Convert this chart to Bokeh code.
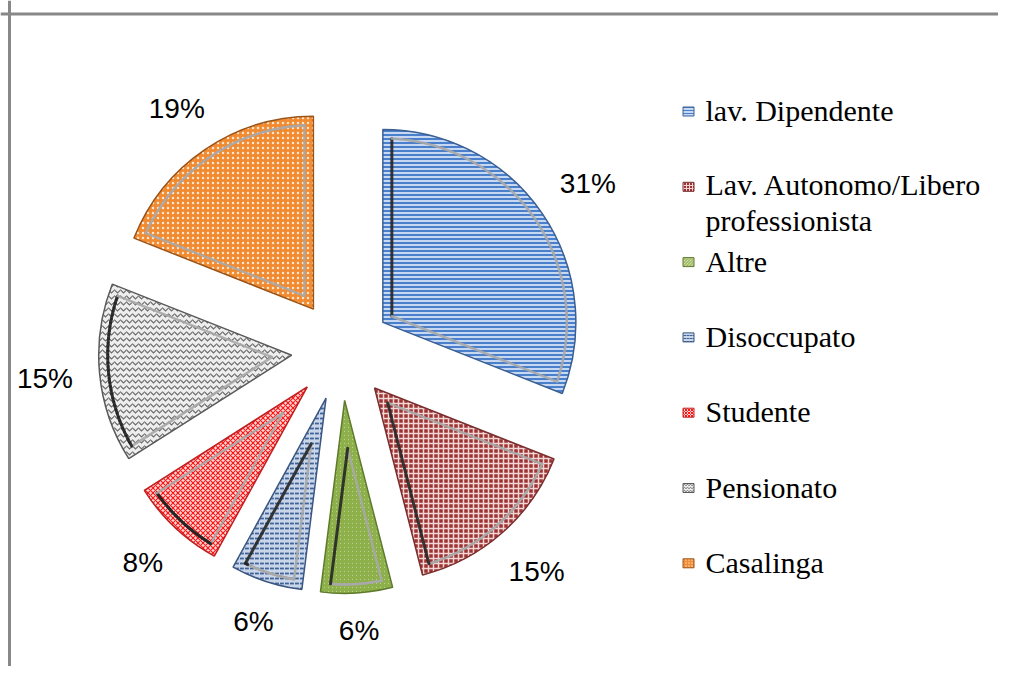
import numpy as np
from bokeh.plotting import figure
from bokeh.models import Range1d, Span, ColumnDataSource
from bokeh.core.properties import value
from bokeh.embed import file_html
from bokeh.resources import INLINE

# ---------------- data ----------------
categories = ["lav. Dipendente", "Lav. Autonomo/Libero\nprofessionista", "Altre",
              "Disoccupato", "Studente", "Pensionato", "Casalinga"]
shares = [31, 15, 6, 6, 8, 15, 19]
labels = [f"{v}%" for v in shares]

# ---------------- styles ----------------
fill_colors = ["#c6d8f2", "#9c3232", "#e9f1d8", "#c9d6ea", "#ffd6d6", "#eeeeee", "#f28a30"]
hatch_patterns = ["horizontal_line", "cross", "left_diagonal_line", "horizontal_dash",
                  "diagonal_cross", "horizontal_wave", "dot"]
hatch_colors = ["#4a7fcb", "#f2d6d6", "#8db04a", "#3f6398", "#ff1414", "#6a6a6a", "#fde6d2"]
hatch_scales = [4, 5, 4, 5, 5, 6, 5]
hatch_weights = [2, 1.5, 1.8, 1.8, 1.1, 1.2, 2.5]
edge_colors = ["#3b5f92", "#7a2d2d", "#5f7a2d", "#3b5680", "#c02020", "#5a5a5a", "#9a5418"]

# ---------------- layout (picture px -> data units) ----------------
W, H = 998, 666


def sx(X):
    return X


def sy(Y):
    return H - Y


cx, cy = sx(341), sy(350)
R = 193
EXPLODE = 50
INSET = 9
LABEL_GAP = 26
LABEL_FONT = 28

total = float(sum(shares))
cum = np.cumsum([0] + shares)
a1 = cum[:-1] / total * 360.0      # clockwise from 12 o'clock
a2 = cum[1:] / total * 360.0
mid = (a1 + a2) / 2.0
rad = np.radians

ax = cx + EXPLODE * np.sin(rad(mid))
ay = cy + EXPLODE * np.cos(rad(mid))

p = figure(width=W, height=H, x_range=Range1d(0, W), y_range=Range1d(0, H),
           output_backend="svg", toolbar_location=None, min_border=0)
p.axis.visible = False
p.grid.visible = False
p.outline_line_color = None
p.background_fill_color = "white"
p.border_fill_color = "white"

# chart-area frame (top and left edges visible in reference)
p.add_layout(Span(location=sy(13.5), dimension="width", line_color="#888888", line_width=3))
p.add_layout(Span(location=sx(9), dimension="height", line_color="#888888", line_width=3))

src = ColumnDataSource(dict(
    x=ax, y=ay,
    start=rad(90 - a2), end=rad(90 - a1),
    fill=fill_colors, hp=hatch_patterns, hc=hatch_colors,
    hs=hatch_scales, hw=hatch_weights, lc=edge_colors,
))
p.wedge(x="x", y="y", radius=R, start_angle="start", end_angle="end",
        direction="anticlock", fill_color="fill", hatch_pattern="hp",
        hatch_color="hc", hatch_scale="hs", hatch_weight="hw",
        line_color="lc", line_width=1.5, source=src)

# bevel inner outline
seg_xs, seg_ys, seg_cols, seg_w = [], [], [], []
for i in range(len(shares)):
    half = rad((a2[i] - a1[i]) / 2.0)
    shift = INSET / np.sin(half)
    apx = ax[i] + shift * np.sin(rad(mid[i]))
    apy = ay[i] + shift * np.cos(rad(mid[i]))
    d = np.degrees(np.arcsin(INSET / (R - INSET)))
    angs = np.linspace(a1[i] + d, a2[i] - d, 40)
    arcx = ax[i] + (R - INSET) * np.sin(rad(angs))
    arcy = ay[i] + (R - INSET) * np.cos(rad(angs))
    segs = [((apx, arcx[0]), (apy, arcy[0]), a1[i] - 90, 300)]
    for k in range(len(angs) - 1):
        segs.append(((arcx[k], arcx[k + 1]), (arcy[k], arcy[k + 1]),
                     (angs[k] + angs[k + 1]) / 2, 290))
    segs.append(((arcx[-1], apx), (arcy[-1], apy), a2[i] + 90, 300))
    for xs_, ys_, nang, lim in segs:
        n = nang % 360
        dark = 205 <= n <= lim
        seg_xs.append(list(xs_))
        seg_ys.append(list(ys_))
        seg_cols.append("#262626" if dark else "#a9a9a9")
        seg_w.append(3 if dark else 2.5)
p.multi_line(xs=seg_xs, ys=seg_ys, line_color=seg_cols, line_width=seg_w,
             line_cap="round", line_alpha=0.9)

# percentage labels (outside end, box just clear of the arc)
ndig = np.array([len(str(v)) for v in shares])
half_w = 0.5 * LABEL_FONT * (0.556 * ndig + 0.889)
half_h = 0.36 * LABEL_FONT
ext = np.abs(np.sin(rad(mid))) * half_w + np.abs(np.cos(rad(mid))) * half_h
dist = R + LABEL_GAP + ext
lx = ax + dist * np.sin(rad(mid))
ly = ay + dist * np.cos(rad(mid))
p.text(x=lx, y=ly, text=labels, text_font=value("Liberation Sans"),
       text_font_size=f"{LABEL_FONT}px", text_align="center", text_baseline="middle",
       text_color="black")

# legend (manual)
LEG_Y0, LEG_STEP, LINE_H = 110, 75.3, 33
rows_y = np.array([sy(LEG_Y0 + LEG_STEP * i) for i in range(len(categories))])
nlines = np.array([c.count("\n") + 1 for c in categories])
text_y = rows_y - (nlines - 1) * LINE_H / 2.0
p.rect(x=[sx(688)] * len(categories), y=rows_y - 1, width=11, height=9,
       fill_color=fill_colors, hatch_pattern=hatch_patterns, hatch_color=hatch_colors,
       hatch_scale=3, hatch_weight=1, line_color=edge_colors, line_width=1)
p.text(x=[sx(705)] * len(categories), y=text_y, text=categories,
       text_font=value("Liberation Serif"), text_font_size="30px",
       text_align="left", text_baseline="middle", text_color="black",
       text_line_height=1.1)

open("out.html", "w").write(file_html(p, INLINE))
